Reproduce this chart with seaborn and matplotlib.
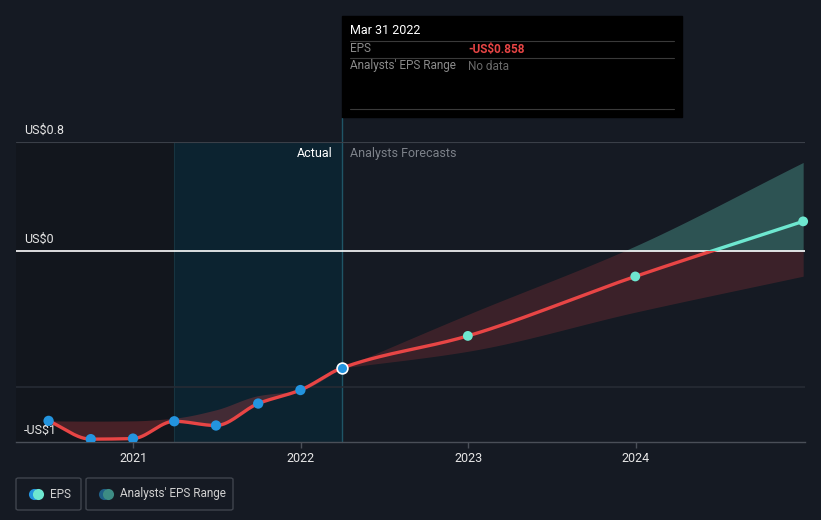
import numpy as np
import pandas as pd
import matplotlib
matplotlib.use("Agg")
import matplotlib.pyplot as plt
import matplotlib.dates as mdates
from matplotlib.patches import Rectangle, FancyBboxPatch
from matplotlib.lines import Line2D
from matplotlib.transforms import blended_transform_factory
import seaborn as sns

# Data
actual_dates = ["2020-06-30", "2020-09-30", "2020-12-31", "2021-03-31",
                "2021-06-30", "2021-09-30", "2021-12-31", "2022-03-31"]
actual_eps = [-1.245, -1.379, -1.375, -1.248, -1.279, -1.118, -1.019, -0.858]
past_estimate = [-1.245, -1.247, -1.245, -1.225, -1.164, -1.06, -1.019, -0.858]

forecast_dates = ["2022-03-31", "2022-12-31", "2023-12-31", "2024-12-31"]
forecast_eps = [-0.858, -0.622, -0.186, 0.218]
forecast_high = [-0.858, -0.465, 0.037, 0.65]
forecast_low = [-0.858, -0.735, -0.448, -0.184]

year_ticks = ["2021", "2022", "2023", "2024"]

# Colours
BG = "#151a23"
RED = "#e84545"
TEAL = "#6ee7d0"
BLUE = "#2394df"

W, H = 821, 520


def fx(px):
    return px / W


def fy(py):
    return 1 - py / H


def smooth(x, y, n=30):
    # monotone cubic (Fritsch-Carlson) for drawing a smooth curve through the points
    x = np.asarray(x, float)
    y = np.asarray(y, float)
    h = np.diff(x)
    d = np.diff(y) / h
    m = np.zeros_like(y)
    m[0], m[-1] = d[0], d[-1]
    for k in range(1, len(x) - 1):
        if d[k - 1] * d[k] <= 0:
            m[k] = 0
        else:
            w1 = 2 * h[k] + h[k - 1]
            w2 = h[k] + 2 * h[k - 1]
            m[k] = (w1 + w2) / (w1 / d[k - 1] + w2 / d[k])
    xs, ys = [], []
    for k in range(len(x) - 1):
        t = np.linspace(0, 1, n, endpoint=False)
        h00 = 2 * t**3 - 3 * t**2 + 1
        h10 = t**3 - 2 * t**2 + t
        h01 = -2 * t**3 + 3 * t**2
        h11 = t**3 - t**2
        xs.append(x[k] + t * h[k])
        ys.append(h00 * y[k] + h10 * h[k] * m[k] + h01 * y[k + 1] + h11 * h[k] * m[k + 1])
    xs.append([x[-1]])
    ys.append([y[-1]])
    return np.concatenate(xs), np.concatenate(ys)


sns.set_theme(style="dark")
plt.rcParams["font.family"] = ["Roboto", "DejaVu Sans"]

a_x = mdates.date2num(pd.to_datetime(actual_dates))
f_x = mdates.date2num(pd.to_datetime(forecast_dates))

fig = plt.figure(figsize=(W / 100, H / 100), dpi=100, facecolor=BG)
ax = fig.add_axes([fx(16), fy(442), fx(805) - fx(16), (442 - 142) / H])
ax.set_facecolor(BG)

x_left = mdates.date2num(pd.Timestamp("2020-04-20"))
x_right = mdates.date2num(pd.Timestamp("2025-01-04"))
x_mar21 = mdates.date2num(pd.Timestamp("2021-03-31"))
x_now = mdates.date2num(pd.Timestamp("2022-03-31"))
ax.set_xlim(x_left, x_right)
ax.set_ylim(-1.4, 0.8)

# background regions
ax.axvspan(x_left, x_mar21, color="#12161d", zorder=0, lw=0)
ax.axvspan(x_mar21, x_now, color="#0c2330", zorder=0, lw=0)
ax.axvline(x_mar21, color="#173440", lw=0.8, zorder=1)
ax.axvline(x_now, ymin=0, ymax=(442 - 118) / 300, color="#1f5566", lw=1,
           clip_on=False, zorder=1)

# grid lines
ax.axhline(0.8, color="#3a3f48", lw=0.8, zorder=1)
ax.axhline(-1, color="#262b34", lw=1.2, zorder=1)

# past estimate band
sx, s_act = smooth(a_x, actual_eps)
_, s_est = smooth(a_x, past_estimate)
ax.fill_between(sx, s_act, s_est, color=RED, alpha=0.25, lw=0, zorder=2)

# forecast band, split at zero
bx, b_hi = smooth(f_x, forecast_high)
_, b_lo = smooth(f_x, forecast_low)
ax.fill_between(bx, np.minimum(b_lo, 0), np.minimum(b_hi, 0), color=RED, alpha=0.18, lw=0, zorder=2)
ax.fill_between(bx, np.maximum(b_lo, 0), np.maximum(b_hi, 0), color=TEAL, alpha=0.28, lw=0, zorder=2)

ax.axhline(0, color="white", lw=1.2, zorder=3)

# EPS line, red below zero and teal above
all_x = np.concatenate([a_x, f_x[1:]])
all_y = np.concatenate([actual_eps, forecast_eps[1:]])
lx, ly = smooth(all_x, all_y)
line_df = pd.DataFrame({"x": lx, "y": ly})
for col, rect in [(RED, (x_left, -5, x_right - x_left, 5)), (TEAL, (x_left, 0, x_right - x_left, 5))]:
    sns.lineplot(data=line_df, x="x", y="y", color=col, lw=2.4, sort=False,
                 estimator=None, ax=ax, zorder=4)
    clip = Rectangle(rect[:2], rect[2], rect[3], transform=ax.transData)
    ax.lines[-1].set_clip_path(clip)

# markers
sns.scatterplot(x=a_x[:-1], y=actual_eps[:-1], color=BLUE, s=55, edgecolor="none", ax=ax, zorder=5)
sns.scatterplot(x=[a_x[-1]], y=[actual_eps[-1]], color=BLUE, s=60, edgecolor="white",
                linewidth=1.2, ax=ax, zorder=6)
sns.scatterplot(x=f_x[1:], y=forecast_eps[1:], color=TEAL, s=50, edgecolor="none",
                ax=ax, zorder=5, clip_on=False)

# axes styling
for side in ["top", "right", "left"]:
    ax.spines[side].set_visible(False)
ax.spines["bottom"].set_color("#4a4f58")
ax.spines["bottom"].set_linewidth(1)
ax.set_yticks([])
ax.set_xticks(mdates.date2num(pd.to_datetime([y + "-01-01" for y in year_ticks])))
ax.set_xticklabels(year_ticks)
ax.tick_params(axis="x", colors="#4a4f58", labelcolor="#e6e6e6", labelsize=9,
               direction="out", length=4, width=1, pad=3, bottom=True)
ax.set_xlabel("")
ax.set_ylabel("")
ax.grid(False)

# y labels
yt = blended_transform_factory(ax.transAxes, ax.transData)
for val, lab in [(0.8, "US$0.8"), (0, "US$0"), (-1.4, "-US$1")]:
    ax.annotate(lab, xy=(0.01, val), xycoords=yt, xytext=(0, 4), textcoords="offset points",
                color="#e6e6e6", fontsize=9, va="bottom", ha="left")

ax.annotate("Actual", xy=(x_now, 0.8), xytext=(-6.5, -8.6), textcoords="offset points",
            color="white", fontsize=9, ha="right", va="center")
ax.annotate("Analysts Forecasts", xy=(x_now, 0.8), xytext=(5.8, -8.6), textcoords="offset points",
            color="#7d828a", fontsize=9, ha="left", va="center")

# tooltip
fig.add_artist(Rectangle((fx(342), fy(117)), fx(682) - fx(342), (117 - 16) / H,
                         transform=fig.transFigure, color="black", zorder=10))
for py in [41, 58, 109]:
    fig.add_artist(Line2D([fx(350), fx(674)], [fy(py), fy(py)], transform=fig.transFigure,
                          color="#3a3a3a", lw=0.8, zorder=11))
fig.text(fx(350), fy(31), "Mar 31 2022", color="white", fontsize=9, va="center", zorder=12)
fig.text(fx(350), fy(49), "EPS", color="#8a8a8a", fontsize=8.5, va="center", zorder=12)
fig.text(fx(468), fy(49), "-US$0.858", color=RED, fontsize=8.5, va="center",
         fontweight="bold", zorder=12)
fig.text(fx(350), fy(66), "Analysts' EPS Range", color="#8a8a8a", fontsize=8.5, va="center", zorder=12)
fig.text(fx(468), fy(66), "No data", color="#6a6a6a", fontsize=8.5, va="center", zorder=12)

# legend
for x0, x1, c1, c2, label in [(16, 81, BLUE, TEAL, "EPS"),
                              (86, 233, "#1f5f86", "#3d8c84", "Analysts' EPS Range")]:
    fig.add_artist(FancyBboxPatch((fx(x0), fy(510)), fx(x1) - fx(x0), (510 - 478) / H,
                                  boxstyle="round,pad=0,rounding_size=0.003",
                                  transform=fig.transFigure, fc="none", ec="#3f444d", lw=1))
    fig.add_artist(Line2D([fx(x0 + 18)], [fy(494)], marker="o", ms=8, color=c1, mec="none",
                          transform=fig.transFigure))
    fig.add_artist(Line2D([fx(x0 + 22)], [fy(494)], marker="o", ms=8, color=c2, mec="none",
                          transform=fig.transFigure))
    fig.text(fx(x0 + 34), fy(494), label, color="#d0d0d0", fontsize=8.5, va="center")

fig.savefig("out.png", dpi=100, facecolor=BG)
